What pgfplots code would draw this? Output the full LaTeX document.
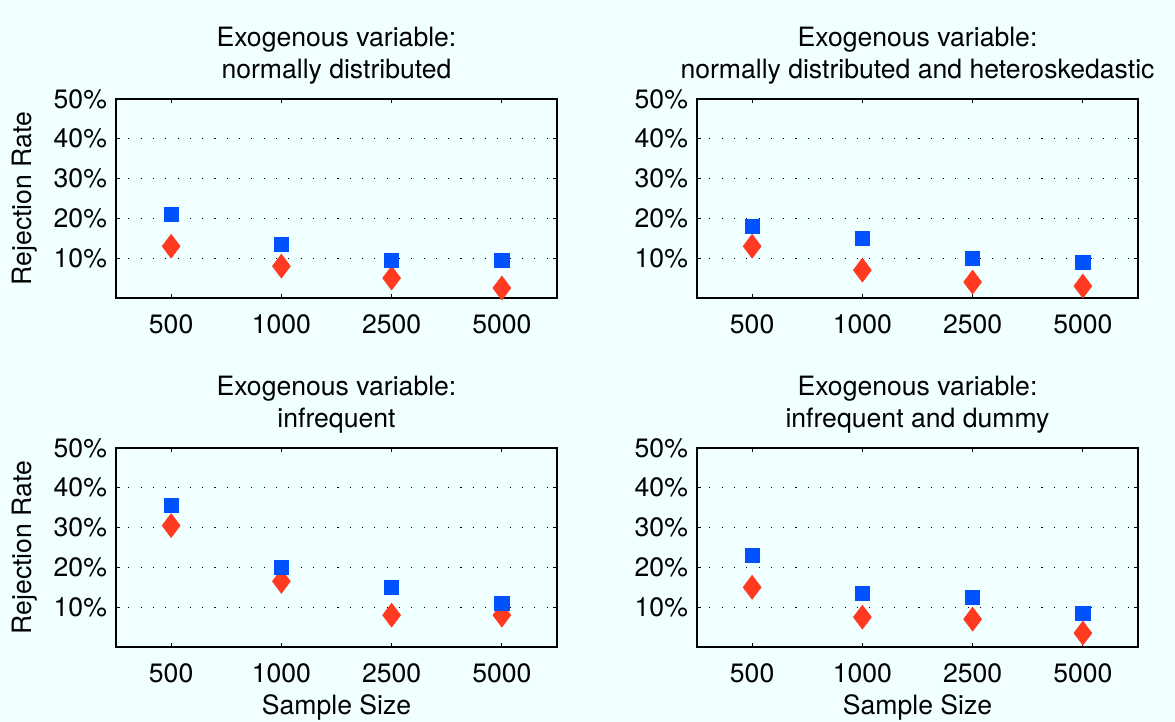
\documentclass[border=0pt]{standalone}
\usepackage{fontspec}
\setmainfont{TeX Gyre Heros}
\usepackage{pgfplots}
\pgfplotsset{compat=1.18}

\definecolor{bgaz}{RGB}{240,255,255}
\definecolor{sqblue}{RGB}{0,82,255}
\definecolor{dmred}{RGB}{255,58,32}

\newcommand{\lblfont}{\fontsize{13.3}{16}\selectfont}

\pgfplotsset{
  rr/.style={
    scale only axis, width=220.5pt, height=99.5pt, anchor=south west,
    xmin=0.5, xmax=4.5, ymin=0, ymax=50,
    xtick={1,2,3,4}, xticklabels={500,1000,2500,5000},
    ytick={10,20,30,40,50}, yticklabels={10\%,20\%,30\%,40\%,50\%},
    tick align=inside, major tick length=2.2pt,
    tick style={black, line width=0.5pt},
    ymajorgrids,
    grid style={black, line width=0.55pt, dash pattern=on 0.55pt off 5.6pt},
    axis line style={line width=0.8pt},
    axis background/.style={fill=bgaz},
    tick label style={font=\lblfont},
    xticklabel shift=4.6pt, yticklabel shift=1pt,
    /pgf/number format/assume math mode=true,
    every axis title shift=0pt,
    title style={font=\lblfont, align=center,
      at={(axis description cs:0.5,1.216)}, anchor=center},
    every axis y label/.style={font=\lblfont,
      at={(axis description cs:-0.206,0.5)}, rotate=90, anchor=center},
    every axis x label/.style={font=\lblfont,
      at={(axis description cs:0.5,-0.305)}, anchor=center},
    clip=false,
  },
  red series/.style={only marks, mark=diamond*, mark size=5.9pt,
    mark options={fill=dmred, draw=dmred}},
  blue series/.style={only marks, mark=square*, mark size=3.6pt,
    mark options={fill=sqblue, draw=sqblue}},
}

\begin{document}
\begin{tikzpicture}
\fill[bgaz] (0,0) rectangle (587.5pt,361pt);
\useasboundingbox (0,0) rectangle (587.5pt,361pt);

% normally distributed
\begin{axis}[rr, at={(58pt,212pt)},
  title={Exogenous variable:\\normally distributed},
  ylabel={Rejection Rate}]
\addplot[red series] coordinates {(1,13) (2,8) (3,5) (4,2.5)};
\addplot[blue series] coordinates {(1,21) (2,13.5) (3,9.5) (4,9.5)};
\end{axis}

% normally distributed and heteroskedastic
\begin{axis}[rr, at={(348.5pt,212pt)},
  title={Exogenous variable:\\normally distributed and heteroskedastic}]
\addplot[red series] coordinates {(1,13) (2,7) (3,4) (4,3)};
\addplot[blue series] coordinates {(1,18) (2,15) (3,10) (4,9)};
\end{axis}

% infrequent
\begin{axis}[rr, at={(58pt,37.5pt)},
  title={Exogenous variable:\\infrequent},
  ylabel={Rejection Rate}, xlabel={Sample Size}]
\addplot[red series] coordinates {(1,30.5) (2,16.5) (3,8) (4,8)};
\addplot[blue series] coordinates {(1,35.5) (2,20) (3,15) (4,11)};
\end{axis}

% infrequent and dummy
\begin{axis}[rr, at={(348.5pt,37.5pt)},
  title={Exogenous variable:\\infrequent and dummy},
  xlabel={Sample Size}]
\addplot[red series] coordinates {(1,15) (2,7.5) (3,7) (4,3.5)};
\addplot[blue series] coordinates {(1,23) (2,13.5) (3,12.5) (4,8.5)};
\end{axis}
\end{tikzpicture}
\end{document}
